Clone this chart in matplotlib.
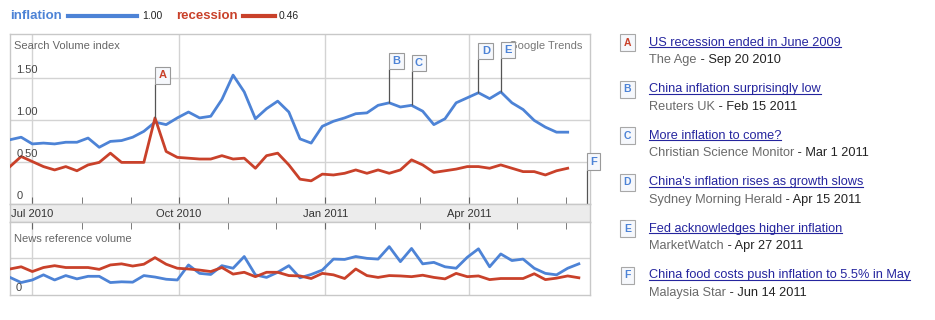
import matplotlib.pyplot as plt
import matplotlib.dates as mdates
from matplotlib.lines import Line2D
from matplotlib.transforms import offset_copy
import pandas as pd

plt.rcParams['font.family'] = ['Liberation Sans', 'DejaVu Sans']

# weekly series, Google Trends style (one point per week from mid June 2010)
week_start = '2010-06-17'
inflation_search = [0.76, 0.79, 0.71, 0.72, 0.71, 0.73, 0.73, 0.78, 0.67, 0.74,
                    0.75, 0.79, 0.86, 0.97, 0.94, 1.02, 1.09, 1.02, 1.04, 1.24,
                    1.53, 1.33, 1.01, 1.13, 1.22, 1.09, 0.77, 0.72, 0.92, 0.98,
                    1.02, 1.07, 1.08, 1.17, 1.20, 1.15, 1.17, 1.10, 0.94, 1.01,
                    1.20, 1.26, 1.32, 1.25, 1.33, 1.20, 1.12, 0.99, 0.91, 0.85, 0.85]
recession_search = [0.44, 0.56, 0.50, 0.44, 0.40, 0.44, 0.39, 0.46, 0.49, 0.60,
                     0.49, 0.49, 0.49, 1.02, 0.62, 0.55, 0.54, 0.53, 0.53, 0.57,
                     0.53, 0.54, 0.42, 0.57, 0.60, 0.46, 0.29, 0.27, 0.35, 0.34,
                     0.36, 0.40, 0.36, 0.40, 0.36, 0.40, 0.52, 0.46, 0.37, 0.39,
                     0.41, 0.44, 0.44, 0.42, 0.46, 0.42, 0.38, 0.38, 0.34, 0.39, 0.42]
inflation_news = [0.48, 0.34, 0.41, 0.55, 0.41, 0.53, 0.44, 0.51, 0.51, 0.34,
                  0.36, 0.35, 0.53, 0.49, 0.43, 0.41, 0.82, 0.59, 0.56, 0.80,
                  0.73, 1.05, 0.55, 0.48, 0.62, 0.80, 0.47, 0.56, 0.68, 0.98,
                  0.97, 1.05, 1.00, 0.98, 1.32, 0.91, 1.27, 0.85, 0.89, 0.77,
                  0.73, 1.03, 1.26, 0.77, 1.12, 0.94, 0.98, 0.73, 0.59, 0.55, 0.73, 0.85]
recession_news = [0.71, 0.77, 0.64, 0.75, 0.80, 0.75, 0.75, 0.75, 0.70, 0.82,
                  0.85, 0.79, 0.84, 1.02, 0.84, 0.73, 0.71, 0.68, 0.64, 0.75,
                  0.57, 0.62, 0.50, 0.62, 0.62, 0.53, 0.52, 0.45, 0.59, 0.55,
                  0.45, 0.71, 0.53, 0.48, 0.53, 0.52, 0.50, 0.54, 0.48, 0.44,
                  0.59, 0.50, 0.52, 0.42, 0.45, 0.45, 0.45, 0.58, 0.42, 0.46, 0.52, 0.47]

series_names = ['inflation', 'recession']
series_totals = ['1.00', '0.46']

y_ticks = [0, 0.5, 1.0, 1.5]
y_tick_labels = ['0', '0.50', '1.00', '1.50']
quarter_dates = ['2010-07-01', '2010-10-01', '2011-01-01', '2011-04-01']
quarter_labels = ['Jul 2010', 'Oct 2010', 'Jan 2011', 'Apr 2011']

# news events (letter, week of the marker, series it sits on, headline, source, date)
ev_letters = ['A', 'B', 'C', 'D', 'E', 'F']
ev_weeks = [13, 34, 36, 42, 44, None]
ev_series = ['recession', 'inflation', 'inflation', 'inflation', 'inflation', 'inflation']
ev_titles = ['US recession ended in June 2009', 'China inflation surprisingly low',
             'More inflation to come?', "China's inflation rises as growth slows",
             'Fed acknowledges higher inflation',
             'China food costs push inflation to 5.5% in May']
ev_sources = ['The Age', 'Reuters UK', 'Christian Science Monitor',
              'Sydney Morning Herald', 'MarketWatch', 'Malaysia Star']
ev_dates = ['Sep 20 2010', 'Feb 15 2011', 'Mar 1 2011', 'Apr 15 2011',
            'Apr 27 2011', 'Jun 14 2011']
ev_box_y = [1.43, 1.60, 1.575, 1.72, 1.73, 0.40]

blue = '#4d83d6'
red = '#c9412a'
grid_c = '#d3d3d3'
edge_c = '#c8c8c8'

W, H = 935, 320
fig = plt.figure(figsize=(W / 100, H / 100), dpi=100)


def fx(px):
    return px / W


def fy(px):
    return 1 - px / H


weeks_top = pd.date_range(week_start, periods=len(inflation_search), freq='7D')
weeks_bot = pd.date_range(week_start, periods=len(inflation_news), freq='7D')
x0, x1 = pd.Timestamp('2010-06-17'), pd.Timestamp('2011-06-16')
qd = pd.to_datetime(quarter_dates)

L, R = 10, 590
ax = fig.add_axes([fx(L), fy(203.5), fx(R - L), (203.5 - 34) / H])
band = fig.add_axes([fx(L), fy(221.7), fx(R - L), (221.7 - 203.5) / H])
axb = fig.add_axes([fx(L), fy(295), fx(R - L), (295 - 221.7) / H])

for a in (ax, band, axb):
    a.set_xlim(x0, x1)
    for s in a.spines.values():
        s.set_color(edge_c)
        s.set_linewidth(1)

# top chart
ax.plot(weeks_top, inflation_search, color=blue, lw=2, zorder=3)
ax.plot(weeks_top, recession_search, color=red, lw=2, zorder=3)
ax.set_ylim(0, 2.02)
ax.set_yticks(y_ticks[1:])
ax.xaxis.set_major_locator(mdates.MonthLocator(bymonth=[1, 4, 7, 10]))
ax.xaxis.set_minor_locator(mdates.MonthLocator())
ax.grid(True, which='major', color=grid_c, lw=1)
ax.tick_params(axis='y', length=0, labelleft=False)
ax.tick_params(axis='x', which='both', direction='in', length=5, color='#666',
               labelbottom=False)
for v, lab in zip(y_ticks, y_tick_labels):
    ax.text(0.011, v + 0.035, lab, transform=ax.get_yaxis_transform(),
            fontsize=8, color='#444', ha='left', va='bottom')
ax.text(0.007, 0.93, 'Search Volume index', transform=ax.transAxes,
        fontsize=8, color='#666', ha='left', va='center')
ax.text(0.987, 0.93, 'Google Trends', transform=ax.transAxes,
        fontsize=8, color='#777', ha='right', va='center', zorder=1)

# event markers on the chart
series_map = {'inflation': inflation_search, 'recession': recession_search}
pad_pts = 2.4
for letter, wk, ser, by, dt in zip(ev_letters, ev_weeks, ev_series, ev_box_y, ev_dates):
    if wk is not None:
        d = weeks_top[wk]
        v = series_map[ser][wk]
    else:
        d = pd.Timestamp(dt)
        v = 0
    ax.vlines(d, v, by, color='#555', lw=0.9, zorder=4)
    tr = offset_copy(ax.transData, fig=fig, x=pad_pts, y=pad_pts, units='points')
    ax.text(d, by, letter, transform=tr, ha='left', va='bottom', fontsize=8,
            fontweight='bold', color=red if ser == 'recession' else blue,
            zorder=6, clip_on=False,
            bbox=dict(boxstyle='square,pad=0.3', fc='#f6f8fc', ec='#9a9a9a', lw=0.8))

# date band
band.set_facecolor('#ececec')
band.set_ylim(0, 1)
band.set_xticks([])
band.set_yticks([])
for d, lab in zip(qd, quarter_labels):
    band.text(d, 0.42, lab, ha='center', va='center', fontsize=8, color='#333')

# bottom chart
axb.plot(weeks_bot, inflation_news, color=blue, lw=2, zorder=3)
axb.plot(weeks_bot, recession_news, color=red, lw=2, zorder=3)
axb.set_ylim(0, 2)
axb.set_yticks([1])
axb.xaxis.set_major_locator(mdates.MonthLocator(bymonth=[1, 4, 7, 10]))
axb.xaxis.set_minor_locator(mdates.MonthLocator())
axb.grid(True, which='major', color=grid_c, lw=1)
axb.tick_params(axis='y', length=0, labelleft=False)
axb.tick_params(axis='x', which='both', direction='in', length=5, color='#666',
                labelbottom=False, top=True, bottom=False)
axb.text(0.007, 0.77, 'News reference volume', transform=axb.transAxes,
         fontsize=8, color='#666', ha='left', va='center')
axb.text(0.009, 0.1, '0', transform=axb.transAxes,
         fontsize=8, color='#444', ha='left', va='center')

# legend at the top
leg = [(10, 68, 137, 142), (176, 243, 275, 279)]
for (tx, la, lb, vx), name, tot, col in zip(leg, series_names, series_totals, [blue, red]):
    fig.text(fx(tx), fy(16), name, fontsize=9.5, fontweight='bold', color=col,
             ha='left', va='center')
    fig.add_artist(Line2D([fx(la), fx(lb)], [fy(16), fy(16)], color=col, lw=3,
                          transform=fig.transFigure))
    fig.text(fx(vx), fy(16), tot, fontsize=7.5, color='#222', ha='left', va='center')

# news list on the right
titles = []
sources = []
for i, (letter, ser, t, s) in enumerate(zip(ev_letters, ev_series, ev_titles, ev_sources)):
    yc = 42.7 + i * 46.5
    fig.text(fx(627.5), fy(yc), letter, fontsize=7.5, fontweight='bold',
             color=red if ser == 'recession' else blue, ha='center', va='center',
             bbox=dict(boxstyle='square,pad=0.35', fc='#f6f8fc', ec='#a8a8a8', lw=0.8))
    titles.append(fig.text(fx(649), fy(yc), t, fontsize=9.2, color='#25259e',
                           ha='left', va='center'))
    sources.append(fig.text(fx(649), fy(yc + 17.5), s, fontsize=9.2, color='#6a6a6a',
                            ha='left', va='center'))

fig.canvas.draw()
rend = fig.canvas.get_renderer()
inv = fig.transFigure.inverted()
for t in titles:
    bb = t.get_window_extent(rend).transformed(inv)
    fig.add_artist(Line2D([bb.x0, bb.x1], [bb.y0 + 1.5 / H, bb.y0 + 1.5 / H],
                          color='#25259e', lw=0.8, transform=fig.transFigure))
for s, d in zip(sources, ev_dates):
    bb = s.get_window_extent(rend).transformed(inv)
    fig.text(bb.x1, s.get_position()[1], ' - ' + d, fontsize=9.2, color='#222',
             ha='left', va='center')

fig.savefig('out.png', dpi=100, facecolor='white')
